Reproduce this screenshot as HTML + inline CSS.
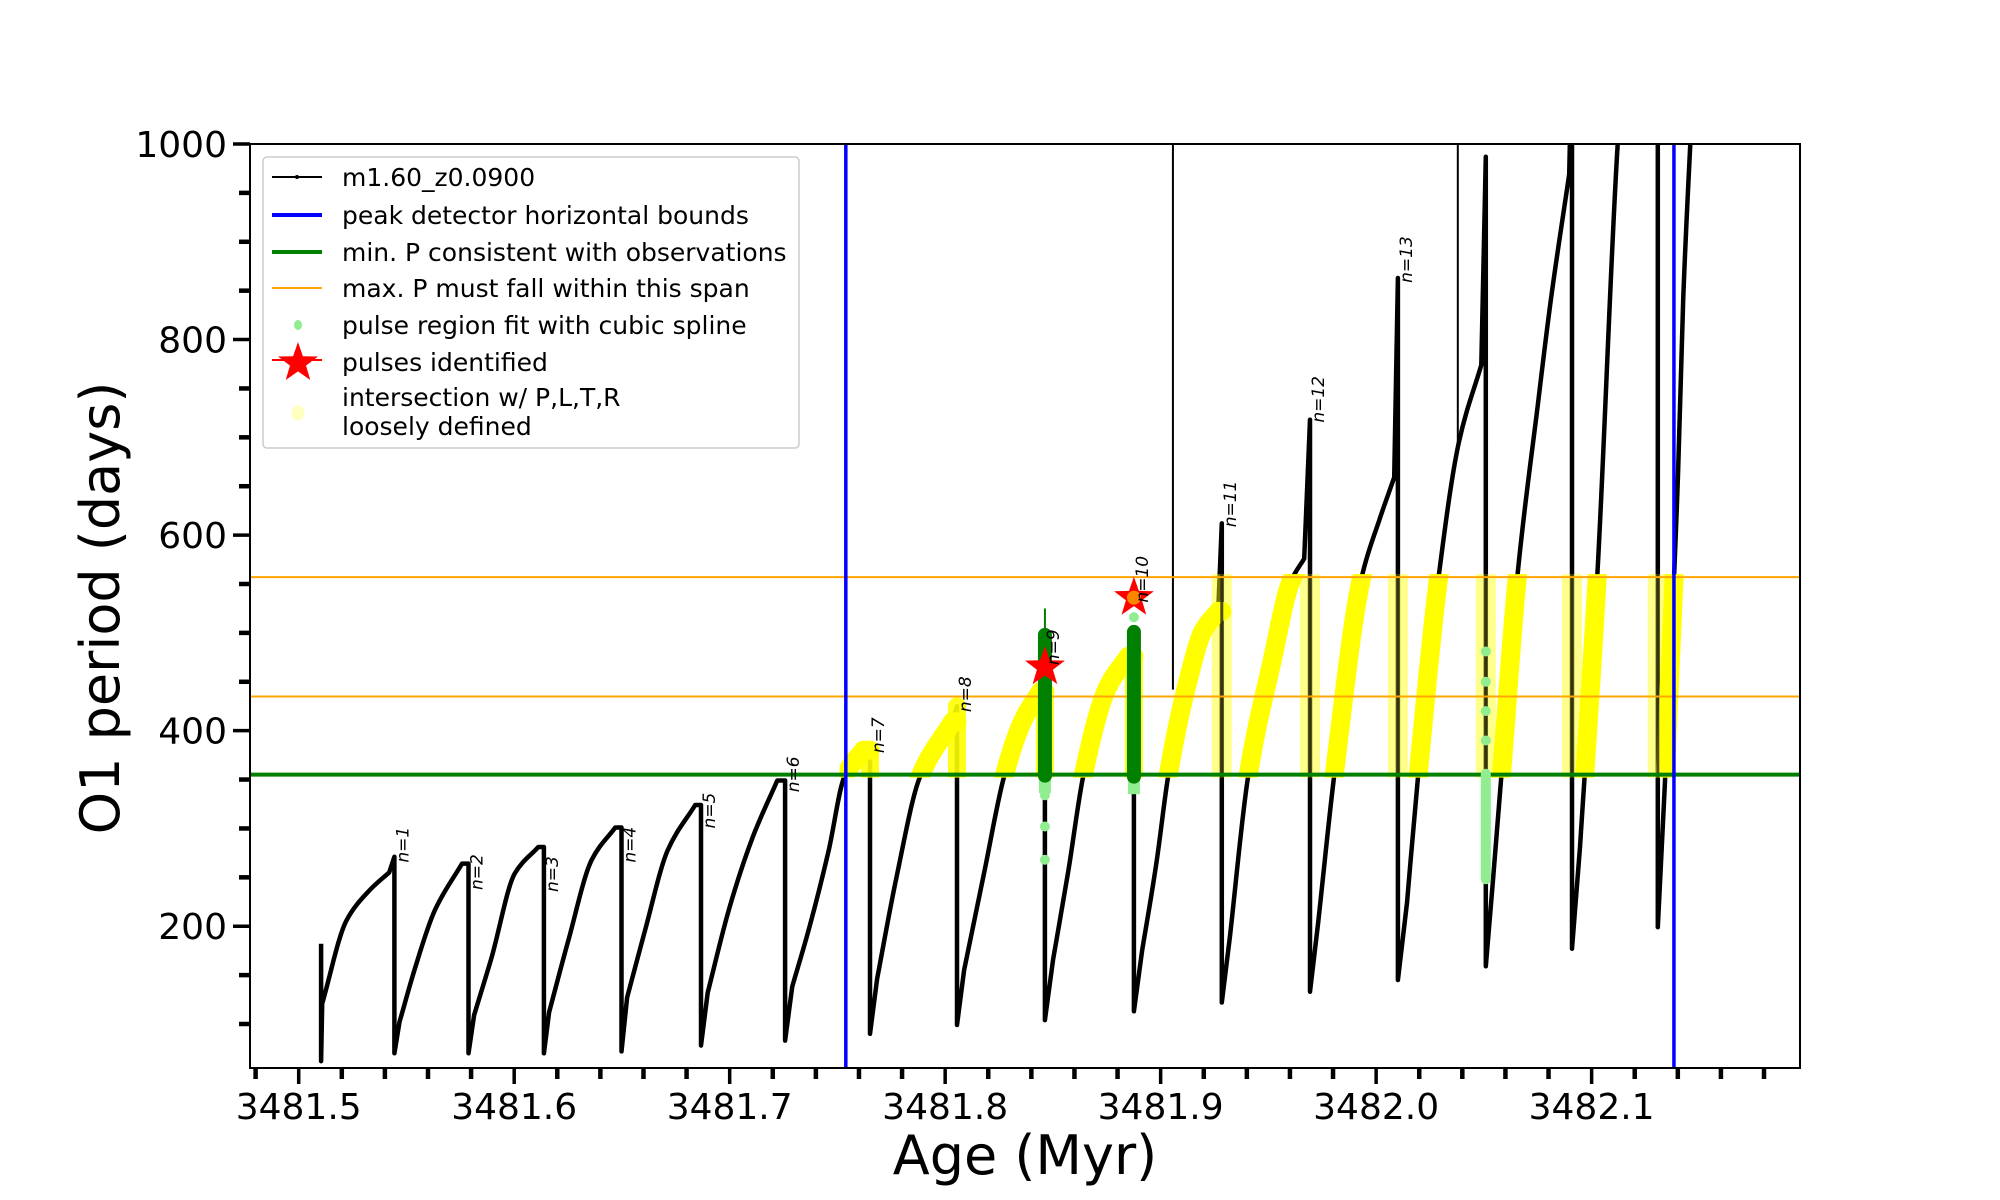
<!DOCTYPE html>
<html><head><meta charset="utf-8"><style>
html,body{margin:0;padding:0;background:#fff}
svg{display:block}
text{font-family:"DejaVu Sans","Liberation Sans",sans-serif}
</style></head><body>
<svg id="chart" width="2000" height="1200" viewBox="0 0 2000 1200" xmlns="http://www.w3.org/2000/svg">
<defs>
<clipPath id="plotClip"><rect x="250" y="144" width="1550" height="924"/></clipPath>
</defs>
<rect x="0" y="0" width="2000" height="1200" fill="#fff"/>
<g id="plot" clip-path="url(#plotClip)"></g>
<g id="axes"></g>
<g id="legend"></g>
</svg>
<script>
// ---- data ----
const dropAges = [3481.5104,3481.5444,3481.5788,3481.6138,3481.6498,3481.6867,3481.7257,3481.7651,3481.8055,3481.8463,3481.8876,3481.9284,3481.9693,3482.0101,3482.0509,3482.0909,3482.1307];
const spikeVals = [182,271,264,281,301,324,349,380,425,440,476,612,718,863,987,1100,1100];
const minVals = [62,70,70,70,72,78,83,90,99,104,113,122,133,145,159,177,199];
// time since each pulse (Myr) of points on the following rise
const riseOffsets = [
 [0.0005,0.0118,0.0226,0.0316],
 [0.0024,0.0097,0.0187,0.0314],
 [0.0026,0.0107,0.0215,0.0324],
 [0.0024,0.0114,0.0222,0.0331],
 [0.0026,0.0106,0.0215,0.0342],
 [0.0031,0.0132,0.0240,0.0354],
 [0.0033,0.0113,0.0203,0.0274,0.0363],
 [0.0033,0.0123,0.0231,0.0382],
 [0.0033,0.0128,0.0217,0.0307,0.0387],
 [0.0038,0.0109,0.0179,0.0288,0.0387],
 [0.0038,0.0104,0.0160,0.0250,0.0321,0.0391],
 [0.0038,0.0123,0.0231,0.0321,0.0382],
 [0.0038,0.0113,0.0240,0.0321,0.0391],
 [0.0042,0.0094,0.0189,0.0283,0.0387],
 [0.0033,0.0080,0.0146,0.0241,0.0302,0.0387],
 [0.0037,0.0117,0.0212,0.0320],
 [0.0033,0.0094,0.0118,0.0151,0.0198]
];
const riseVals = [
 [121,206,237,255],
 [102,158,216,264],
 [109,168,254,281],
 [112,186,268,301],
 [127,193,278,324],
 [132,219,291,349],
 [138,199,278,352,380],
 [146,250,352,409],
 [155,257,352,411,440],
 [166,257,355,443,476],
 [175,264,355,450,502,522],
 [190,355,469,553,576],
 [204,355,557,615,659],
 [224,355,557,695,774],
 [246,376,557,733,841,969],
 [281,557,1000,1300],
 [346,662,841,1000,1200]
];
const pulseLabels = ["n=1","n=2","n=3","n=4","n=5","n=6","n=7","n=8","n=9","n=10","n=11","n=12","n=13"];
const labelVals = [265,237,235,265,300,337,377,419,467,531,608,715,858];
const artifactAges = [3481.9057,3482.0379];
const artifactBottoms = [442,695];
const blueBounds = [3481.7539,3482.1382];
const minPeriod = 355;
const maxSpan = [435,557];
const starAges = [3481.8463,3481.8876];
const starVals = [465,536];
const greenPulseAges = [3481.8463,3481.8876];
const greenLow = [354,353];
const greenHigh = [498,501];
const lightGreenDots = [[3481.8463,334],[3481.8463,302],[3481.8463,268],[3481.8876,516],[3482.0509,481],[3482.0509,450],[3482.0509,420],[3482.0509,390]];
const lightGreenBarAge = 3482.0509;
const lightGreenBar = [248,356];
const xTickLabels = ["3481.5","3481.6","3481.7","3481.8","3481.9","3482.0","3482.1"];
const xTickVals = [3481.5,3481.6,3481.7,3481.8,3481.9,3482.0,3482.1];
const yTickVals = [200,400,600,800,1000];
const yTickLabels = ["200","400","600","800","1000"];

// ---- axes ----
const X0=250,X1=1800,Y0=1068,Y1=144;
const AMIN=3481.4774,AMAX=3482.1967,VMIN=55,VMAX=1000;
function x(a){return X0+(a-AMIN)/(AMAX-AMIN)*(X1-X0);}
function y(v){return Y0-(v-VMIN)/(VMAX-VMIN)*(Y0-Y1);}
const NS="http://www.w3.org/2000/svg";
function mk(tag,attrs,parent){const e=document.createElementNS(NS,tag);for(const k in attrs)e.setAttribute(k,attrs[k]);parent.appendChild(e);return e;}
const plot=document.getElementById('plot'),axes=document.getElementById('axes'),legend=document.getElementById('legend');

function monoSeg(pts){
 const n=pts.length;if(n<2)return "";
 const dx=[],m=[],t=[];
 for(let i=0;i<n-1;i++){dx.push(pts[i+1][0]-pts[i][0]);m.push((pts[i+1][1]-pts[i][1])/dx[i]);}
 t[0]=m[0];t[n-1]=m[n-2];
 for(let i=1;i<n-1;i++){t[i]=0;if(m[i-1]*m[i]>0){const w1=2*dx[i]+dx[i-1],w2=dx[i]+2*dx[i-1];t[i]=(w1+w2)/(w1/m[i-1]+w2/m[i]);}}
 let s="";
 for(let i=0;i<n-1;i++){
  const h=dx[i];
  const c1=[pts[i][0]+h/3,pts[i][1]+t[i]*h/3];
  const c2=[pts[i+1][0]-h/3,pts[i+1][1]-t[i+1]*h/3];
  s+=" C"+c1[0].toFixed(1)+","+c1[1].toFixed(1)+" "+c2[0].toFixed(1)+","+c2[1].toFixed(1)+" "+pts[i+1][0].toFixed(1)+","+pts[i+1][1].toFixed(1);
 }
 return s;
}
let d="",riseD="",dropD="",lateDropD="";
for(let i=0;i<dropAges.length;i++){
 const xa=x(dropAges[i]);
 const pts=riseOffsets[i].map((o,j)=>[x(dropAges[i]+o),y(riseVals[i][j])]);
 if(i===0) d+="M"+xa.toFixed(1)+","+y(spikeVals[i]).toFixed(1);
 else d+=" L"+xa.toFixed(1)+","+y(spikeVals[i]).toFixed(1);
 d+=" L"+xa.toFixed(1)+","+y(minVals[i]).toFixed(1);
 const seg="M"+xa.toFixed(1)+","+y(spikeVals[i]).toFixed(1)+" L"+xa.toFixed(1)+","+y(minVals[i]).toFixed(1)+" ";
 if(i>=11) lateDropD+=seg; else dropD+=seg;
 d+=" L"+pts[0][0].toFixed(1)+","+pts[0][1].toFixed(1)+monoSeg(pts);
 riseD+="M"+pts[0][0].toFixed(1)+","+pts[0][1].toFixed(1)+monoSeg(pts)+" ";
 if(i+1<dropAges.length){const last=pts[pts.length-1];riseD+="L"+x(dropAges[i+1]).toFixed(1)+","+last[1].toFixed(1)+" ";}
}
const curve=mk('path',{d:d,fill:'none',stroke:'#000','stroke-width':4.5,'stroke-linejoin':'round'},plot);



for(let i=0;i<artifactAges.length;i++){
 const l=mk('line',{x1:x(artifactAges[i]),x2:x(artifactAges[i]),y1:y(1000),y2:y(artifactBottoms[i]),stroke:'#000','stroke-width':2},plot);
 
 
}

const band=mk('clipPath',{id:'bandClip'},document.querySelector('defs'));
mk('rect',{x:x(3481.751),y:y(maxSpan[1])-3,width:x(3482.150)-x(3481.751),height:y(minPeriod)-y(maxSpan[1])+6},band);
const yg=mk('g',{'clip-path':'url(#bandClip)'},plot);


const ydr=mk('path',{d:dropD,fill:'none',stroke:'#ffff00','stroke-width':18,'stroke-linecap':'round','stroke-opacity':0.9},yg);


const ylate=mk('path',{d:lateDropD,fill:'none',stroke:'#ffff00','stroke-width':20,'stroke-linecap':'round','stroke-opacity':0.45},yg);


const yp=mk('path',{d:riseD,fill:'none',stroke:'#ffff00','stroke-width':19,'stroke-linecap':'round','stroke-linejoin':'round'},yg);


const dp=mk('path',{d:lateDropD,fill:'none',stroke:'#222','stroke-width':3,'stroke-opacity':0.8},yg);



const gl=mk('line',{x1:X0,x2:X1,y1:y(minPeriod),y2:y(minPeriod),stroke:'#008000','stroke-width':4},plot);


maxSpan.forEach(v=>{
 const ol=mk('line',{x1:X0,x2:X1,y1:y(v),y2:y(v),stroke:'#ffa500','stroke-width':2},plot);
 
 
});
blueBounds.forEach(a=>{
 const bl=mk('line',{x1:x(a),x2:x(a),y1:Y1,y2:Y0,stroke:'#0000ff','stroke-width':3.5},plot);
 
 
});

const lgb=mk('line',{x1:x(lightGreenBarAge),x2:x(lightGreenBarAge),y1:y(lightGreenBar[0]),y2:y(lightGreenBar[1]),stroke:'#90ee90','stroke-width':10,'stroke-linecap':'round'},plot);


lightGreenDots.forEach(p=>{
 const c=mk('circle',{cx:x(p[0]),cy:y(p[1]),r:5,fill:'#90ee90'},plot);
 
 
});
for(let i=0;i<greenPulseAges.length;i++){
 const gx=x(greenPulseAges[i]);
 const lb=mk('line',{x1:gx,x2:gx,y1:y(greenLow[i]-18),y2:y(greenLow[i]),stroke:'#90ee90','stroke-width':12},plot);
 
 
 const gb=mk('line',{x1:gx,x2:gx,y1:y(greenLow[i]),y2:y(greenHigh[i]),stroke:'#008000','stroke-width':14,'stroke-linecap':'round'},plot);
 
 
}
const gt=mk('line',{x1:x(greenPulseAges[0]),x2:x(greenPulseAges[0]),y1:y(greenHigh[0]),y2:y(525),stroke:'#008000','stroke-width':2},plot);



function starPath(cx,cy,R){const r=R*0.4;let s="";for(let k=0;k<10;k++){const ang=-Math.PI/2+k*Math.PI/5;const rr=k%2?r:R;s+=(k?"L":"M")+(cx+rr*Math.cos(ang)).toFixed(1)+","+(cy+rr*Math.sin(ang)).toFixed(1);}return s+"Z";}
for(let i=0;i<starAges.length;i++){
 const st=mk('path',{d:starPath(x(starAges[i]),y(starVals[i]),21),fill:'#ff0000'},plot);
 
 
}
const orb=mk('circle',{cx:x(starAges[1]),cy:y(starVals[1]),r:7,fill:'#ffa500','fill-opacity':0.8},plot);



for(let i=0;i<pulseLabels.length;i++){
 const lx=x(dropAges[i+1])+14,ly=y(labelVals[i]);
 const t=mk('text',{x:lx,y:ly,transform:'rotate(-90 '+lx+' '+ly+')','font-size':17,fill:'#000','font-style':'italic'},plot);
 t.textContent=pulseLabels[i];
 
 
}

const fr=mk('rect',{x:X0,y:Y1,width:X1-X0,height:Y0-Y1,fill:'none',stroke:'#000','stroke-width':2},axes);


for(let k=0;k<=35;k++){
 const a=3481.48+k*0.02;const xx=x(a);
 const major=Math.abs((a*10)-Math.round(a*10))<1e-6;
 const tk=mk('line',{x1:xx,x2:xx,y1:Y0,y2:Y0+(major?16:11),stroke:'#000','stroke-width':major?3.5:4.5},axes);
 
 
}
for(let i=0;i<xTickVals.length;i++){
 const t=mk('text',{x:x(xTickVals[i]),y:1119,'font-size':36,'text-anchor':'middle',fill:'#000'},axes);
 t.textContent=xTickLabels[i];
 
 
}
for(let v=100;v<=1000;v+=50){
 const yy=y(v);const major=v%200===0;
 const tk=mk('line',{x1:X0-(major?17:11),x2:X0,y1:yy,y2:yy,stroke:'#000','stroke-width':major?3.5:4.5},axes);
 
 
}
for(let i=0;i<yTickVals.length;i++){
 const t=mk('text',{x:227,y:y(yTickVals[i])+13,'font-size':36,'text-anchor':'end',fill:'#000'},axes);
 t.textContent=yTickLabels[i];
 
 
}
const xl=mk('text',{x:1025,y:1174,'font-size':54,'text-anchor':'middle',fill:'#000'},axes);
xl.textContent="Age (Myr)";


const ylab=mk('text',{x:119,y:608,'font-size':54,'text-anchor':'middle',fill:'#000',transform:'rotate(-90 119 608)'},axes);
ylab.textContent="O1 period (days)";



const lb=mk('rect',{x:263,y:157,width:536,height:291,rx:4,fill:'#fff','fill-opacity':0.85,stroke:'#cccccc','stroke-width':1.5},legend);


const legTexts=["m1.60_z0.0900","peak detector horizontal bounds","min. P consistent with observations","max. P must fall within this span","pulse region fit with cubic spline","pulses identified"];
const legY=[177,215,252,288,325,362];
for(let i=0;i<legTexts.length;i++){
 const t=mk('text',{x:342,y:legY[i]+9,'font-size':25,fill:'#000'},legend);
 t.textContent=legTexts[i];
 
 
}
const t7=mk('text',{x:342,y:406,'font-size':25,fill:'#000'},legend);
t7.textContent="intersection w/ P,L,T,R";


const t8=mk('text',{x:342,y:435,'font-size':25,fill:'#000'},legend);
t8.textContent="loosely defined";


const h1=mk('line',{x1:272,x2:322,y1:177,y2:177,stroke:'#000','stroke-width':2},legend);


const h1d=mk('circle',{cx:297,cy:177,r:2,fill:'#000'},legend);


const h2=mk('line',{x1:272,x2:322,y1:215,y2:215,stroke:'#0000ff','stroke-width':4},legend);


const h3=mk('line',{x1:272,x2:322,y1:252,y2:252,stroke:'#008000','stroke-width':4},legend);


const h4=mk('line',{x1:272,x2:322,y1:288,y2:288,stroke:'#ffa500','stroke-width':2},legend);


const h5=mk('ellipse',{cx:298,cy:325,rx:4,ry:5,fill:'#90ee90'},legend);


const h6l=mk('line',{x1:272,x2:322,y1:360,y2:360,stroke:'#ff0000','stroke-width':2},legend);


const h6=mk('path',{d:starPath(298,363,21),fill:'#ff0000'},legend);


const h7=mk('ellipse',{cx:298,cy:413,rx:6.5,ry:7.5,fill:'#ffffc0'},legend);


</script>
</body></html>
